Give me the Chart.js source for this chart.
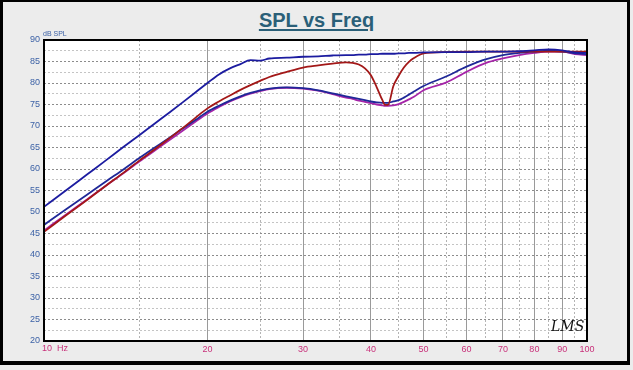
<!DOCTYPE html>
<html>
<head>
<meta charset="utf-8">
<script src="https://cdn.jsdelivr.net/npm/chart.js@4.4.1/dist/chart.umd.min.js"></script>
<style>
  html, body { margin: 0; padding: 0; background: #ececec; }
  .frame {
    position: absolute; left: 0; top: 0; width: 624px; height: 359px;
    border-style: solid; border-color: #000; border-width: 2px 3px 4px 3px;
  }
  .title {
    position: absolute; left: 0; top: 9px; width: 633px; text-align: center;
    font-family: "Liberation Sans", Arial, sans-serif; font-size: 20px; font-weight: bold;
    color: #2a5f78; text-decoration: underline; text-underline-offset: 2px;
  }
  canvas { position: absolute; left: 0; top: 0; }
</style>
</head>
<body>
<div class="frame"></div>
<div class="title">SPL vs Freq</div>
<canvas id="spl" width="633" height="370"></canvas>
<script>
// frequencies (Hz) shared by all curves
const freqs = [10, 11, 12, 13, 14, 15, 16, 17, 18, 19, 20, 21, 22, 23, 24, 25, 26, 28, 30, 32, 34, 36, 37, 38, 39, 40, 41, 42, 42.5, 43, 44, 45, 46, 47, 48, 50, 55, 60, 65, 70, 75, 80, 85, 90, 95, 100];

// SPL readings (dB)
const splTopBlue = [51.2, 55.1, 58.7, 62.0, 65.1, 67.9, 70.6, 73.1, 75.5, 77.8, 80.0, 82.0, 83.4, 84.4, 85.3, 85.2, 85.7, 85.9, 86.1, 86.2, 86.4, 86.5, 86.5, 86.6, 86.6, 86.7, 86.7, 86.8, 86.8, 86.8, 86.8, 86.9, 86.9, 87.0, 87.0, 87.1, 87.2, 87.2, 87.3, 87.3, 87.4, 87.6, 87.8, 87.6, 87.1, 87.0];
const splRed = [45.4, 49.3, 52.8, 56.1, 59.1, 62.0, 64.6, 67.1, 69.5, 71.9, 74.1, 75.7, 77.1, 78.4, 79.5, 80.5, 81.4, 82.6, 83.6, 84.1, 84.5, 84.8, 84.7, 84.3, 83.4, 81.8, 79.0, 76.0, 74.9, 74.9, 79.3, 81.7, 83.6, 84.9, 85.8, 86.9, 87.2, 87.3, 87.3, 87.3, 87.3, 87.3, 87.3, 87.3, 87.3, 87.3];
const splLowBlue = [47.0, 50.7, 54.0, 57.1, 59.9, 62.6, 65.0, 67.2, 69.4, 71.4, 73.3, 74.7, 75.9, 76.9, 77.7, 78.3, 78.7, 79.0, 78.8, 78.3, 77.6, 76.9, 76.6, 76.3, 76.0, 75.7, 75.5, 75.4, 75.4, 75.4, 75.7, 76.0, 76.6, 77.3, 78.0, 79.3, 81.5, 83.8, 85.5, 86.5, 87.0, 87.3, 87.5, 87.3, 86.9, 86.7];
const splMagenta = [45.7, 49.5, 52.9, 56.1, 59.0, 61.8, 64.3, 66.7, 68.9, 71.0, 72.9, 74.4, 75.7, 76.7, 77.5, 78.1, 78.6, 78.9, 78.7, 78.2, 77.4, 76.6, 76.3, 75.9, 75.6, 75.3, 75.0, 74.8, 74.7, 74.7, 74.8, 75.1, 75.6, 76.2, 76.8, 78.3, 80.1, 82.6, 84.6, 85.7, 86.5, 87.0, 87.3, 87.3, 86.7, 86.5];

// axis ticks
const xTicks = [10, 15, 20, 25, 30, 35, 40, 45, 50, 55, 60, 65, 70, 75, 80, 85, 90, 95, 100];
const xLabels = ['10 Hz', '', '20', '', '30', '', '40', '', '50', '', '60', '', '70', '', '80', '', '90', '', '100'];
const yTicks = [20, 22.5, 25, 27.5, 30, 32.5, 35, 37.5, 40, 42.5, 45, 47.5, 50, 52.5, 55, 57.5, 60, 62.5, 65, 67.5, 70, 72.5, 75, 77.5, 80, 82.5, 85, 87.5, 90];

const toPoints = vals => vals.map((v, i) => ({ x: freqs[i], y: v }));

const plotDecor = {
  id: 'plotDecor',
  beforeDraw(chart) {
    const { ctx, chartArea: a } = chart;
    ctx.save();
    ctx.fillStyle = '#fff';
    ctx.fillRect(a.left, a.top, a.right - a.left, a.bottom - a.top);
    ctx.restore();
  },
  afterDatasetsDraw(chart) {
    const { ctx, chartArea: a } = chart;
    ctx.save();
    ctx.strokeStyle = '#000';
    ctx.lineWidth = 2;
    ctx.strokeRect(a.left, a.top, a.right - a.left, a.bottom - a.top);
    // first x label sits to the right of its tick
    ctx.fillStyle = '#c8307a';
    ctx.font = '9px "Liberation Sans", Arial, sans-serif';
    ctx.textBaseline = 'middle';
    ctx.textAlign = 'left';
    ctx.fillText('10  Hz', a.left - 2, a.bottom + 8);
    // unit label
    ctx.fillStyle = '#3d62a6';
    ctx.font = '7px "Liberation Sans", Arial, sans-serif';
    ctx.fillText('dB SPL', a.left - 1, a.top - 6);
    // logo
    ctx.fillStyle = '#111';
    ctx.font = 'italic 14px "DejaVu Serif", serif';
    ctx.fillText('LMS', a.right - 36, a.bottom - 14);
    ctx.restore();
  }
};

new Chart(document.getElementById('spl'), {
  type: 'line',
  data: {
    datasets: [
      { label: 'top', data: toPoints(splTopBlue), borderColor: '#1c1ca0' },
      { label: 'red', data: toPoints(splRed), borderColor: '#a31818' },
      { label: 'low', data: toPoints(splLowBlue), borderColor: '#1f2898' },
      { label: 'magenta', data: toPoints(splMagenta), borderColor: '#a524a8' }
    ]
  },
  options: {
    responsive: false,
    animation: false,
    layout: { padding: { left: 0, top: 40, right: 46, bottom: 0 } },
    elements: {
      point: { radius: 0 },
      line: { borderWidth: 1.8, cubicInterpolationMode: 'monotone' }
    },
    plugins: { legend: { display: false }, tooltip: { enabled: false } },
    scales: {
      x: {
        type: 'logarithmic', min: 10, max: 100,
        afterBuildTicks: s => { s.ticks = xTicks.map(v => ({ value: v })); },
        afterFit: s => { s.height = 29; },
        ticks: {
          autoSkip: false, maxRotation: 0, padding: 3,
          color: '#c8307a',
          font: { family: '"Liberation Sans", Arial, sans-serif', size: 9 },
          callback: v => { const i = xTicks.indexOf(v); return i > 0 ? xLabels[i] : ''; }
        },
        grid: {
          drawTicks: false,
          color: c => (c.tick && c.tick.value % 10 === 0) ? '#9a9a9a' : '#b4b4b4',
          lineWidth: 1
        },
        border: {
          display: false,
          dash: c => (c.tick && c.tick.value % 10 === 0) ? [] : [2, 2]
        }
      },
      y: {
        min: 20, max: 90,
        afterBuildTicks: s => { s.ticks = yTicks.map(v => ({ value: v })); },
        afterFit: s => { s.width = 44; },
        ticks: {
          autoSkip: false, padding: 4,
          color: '#3d62a6',
          font: { family: '"Liberation Sans", Arial, sans-serif', size: 9 },
          callback: v => (v % 5 === 0 ? String(v) : '')
        },
        grid: {
          drawTicks: false,
          color: c => (c.tick && c.tick.value % 5 === 0) ? '#8c8c8c' : '#c4c4c4',
          lineWidth: 1
        },
        border: { display: false, dash: [2, 2] }
      }
    }
  },
  plugins: [plotDecor]
});
</script>
</body>
</html>
